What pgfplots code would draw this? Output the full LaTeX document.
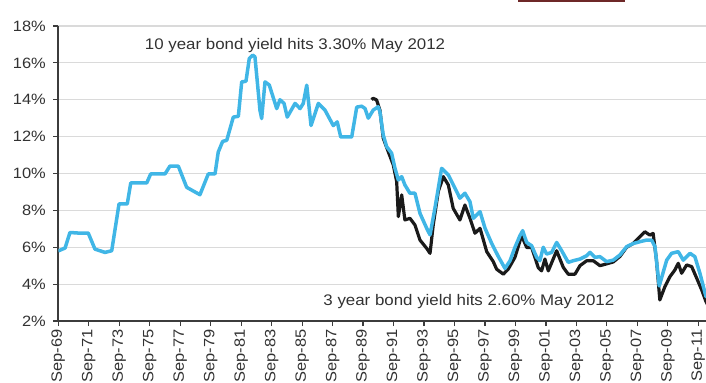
\documentclass[border=0pt]{standalone}
\usepackage{fontspec}
\setmainfont{Liberation Sans}[FakeStretch=1.1]
\usepackage{pgfplots}
\pgfplotsset{compat=1.18}
\definecolor{tenyr}{RGB}{64,182,230}
\definecolor{threeyr}{RGB}{26,26,26}
\definecolor{gridgray}{RGB}{218,218,218}
\definecolor{axisgray}{RGB}{60,60,60}
\definecolor{labgray}{RGB}{50,50,50}
\definecolor{barred}{RGB}{110,40,40}
\begin{document}
\begin{tikzpicture}
\begin{axis}[
  scale only axis, width=647.7bp, height=295bp,
  at={(0,0)}, anchor=south west,
  xmin=1969.555, xmax=2012.06, ymin=2, ymax=18,
  axis lines*=left,
  ytick={2,4,...,18},
  yticklabels={2\%,4\%,6\%,8\%,10\%,12\%,14\%,16\%,18\%},
  ymajorgrids, grid style={draw=gridgray, line width=1.2bp},
  xtick={1969.555,1971.555,1973.555,1975.555,1977.555,1979.555,1981.555,1983.555,1985.555,1987.555,1989.555,1991.555,1993.555,1995.555,1997.555,1999.555,2001.555,2003.555,2005.555,2007.555,2009.555,2011.555},
  xticklabels={Sep-69,Sep-71,Sep-73,Sep-75,Sep-77,Sep-79,Sep-81,Sep-83,Sep-85,Sep-87,Sep-89,Sep-91,Sep-93,Sep-95,Sep-97,Sep-99,Sep-01,Sep-03,Sep-05,Sep-07,Sep-09,Sep-11},
  tick align=outside, major tick length=5bp,
  tick style={line width=1.2bp, draw=axisgray},
  axis line style={line width=1.6bp, draw=axisgray},
  ticklabel style={font=\fontsize{15}{15}\selectfont, text=labgray},
  xticklabel style={rotate=90, anchor=east},
  yticklabel style={xshift=-4bp},
]
\addplot[threeyr, line width=3.2bp, line join=round] coordinates {
(1990.12,14.0) (1990.22,14.08) (1990.44,13.99) (1990.66,13.44) (1990.88,11.91)
(1991.21,11.18) (1991.54,10.46) (1991.76,9.56) (1991.87,7.66) (1992.09,8.84)
(1992.30,7.48) (1992.63,7.57) (1992.96,7.21) (1993.29,6.39) (1993.73,5.94)
(1993.95,5.67) (1994.16,7.21) (1994.49,9.02) (1994.82,9.83) (1995.15,9.38)
(1995.47,8.11) (1995.91,7.48) (1996.24,8.29) (1996.57,7.57) (1996.90,6.76)
(1997.23,7.03) (1997.67,5.76) (1998.10,5.22) (1998.32,4.81) (1998.76,4.54)
(1999.08,4.81) (1999.52,5.45) (1999.96,6.63) (2000.29,5.99) (2000.62,5.99)
(2001.05,4.9) (2001.27,4.72) (2001.49,5.36) (2001.71,4.72) (2002.26,5.81)
(2002.70,4.9) (2003.02,4.54) (2003.46,4.54) (2003.79,5.0) (2004.23,5.27)
(2004.66,5.27) (2005.10,5.0) (2005.54,5.1) (2005.97,5.2) (2006.41,5.5)
(2006.85,6.0) (2007.28,6.2) (2007.72,6.57) (2008.05,6.84) (2008.37,6.66)
(2008.59,6.75) (2008.81,5.3) (2009.03,3.14) (2009.36,3.86) (2009.69,4.4)
(2010.02,4.77) (2010.24,5.13) (2010.46,4.59) (2010.79,5.04) (2011.12,4.95)
(2011.45,4.32) (2011.78,3.68) (2012.06,3.05) (2012.33,2.6)
};
\addplot[tenyr, line width=3.5bp, line join=round] coordinates {
(1969.555,5.8) (1970.00,5.96) (1970.32,6.8) (1970.87,6.77) (1971.52,6.77)
(1971.96,5.9) (1972.62,5.72) (1973.06,5.81) (1973.54,8.35) (1974.08,8.35)
(1974.31,9.49) (1975.36,9.49) (1975.62,9.98) (1976.56,9.98) (1976.88,10.4)
(1977.43,10.4) (1977.98,9.25) (1978.85,8.85) (1979.40,9.98) (1979.84,9.98)
(1980.05,11.16) (1980.34,11.74) (1980.61,11.8) (1981.04,13.06) (1981.37,13.1)
(1981.59,14.97) (1981.87,15.0) (1982.09,16.24) (1982.31,16.42) (1982.46,16.33)
(1982.79,13.43) (1982.90,12.98) (1983.12,14.97) (1983.40,14.8) (1983.89,13.52)
(1984.10,14.0) (1984.37,13.8) (1984.58,13.06) (1985.09,13.8) (1985.42,13.52)
(1985.63,13.8) (1985.86,14.79) (1986.14,12.6) (1986.62,13.8) (1987.06,13.43)
(1987.60,12.6) (1987.86,12.8) (1988.09,11.98) (1988.81,11.98) (1989.14,13.6)
(1989.46,13.65) (1989.68,13.53) (1989.90,13.0) (1990.22,13.44) (1990.55,13.62)
(1990.66,13.35) (1990.88,12.09) (1991.10,11.46) (1991.43,11.1) (1991.65,10.28)
(1991.87,9.65) (1992.09,9.83) (1992.30,9.38) (1992.63,8.93) (1992.96,8.93)
(1993.29,7.84) (1993.73,7.03) (1993.95,6.67) (1994.27,8.11) (1994.71,10.28)
(1995.15,9.92) (1995.59,9.2) (1995.91,8.66) (1996.24,8.93) (1996.57,8.47)
(1996.79,7.57) (1997.23,7.93) (1997.56,7.03) (1998.00,6.2) (1998.43,5.5)
(1998.87,4.85) (1999.20,5.27) (1999.52,5.99) (1999.85,6.63) (2000.03,6.9)
(2000.29,6.26) (2000.62,6.08) (2000.95,5.45) (2001.16,5.27) (2001.38,6.0)
(2001.60,5.63) (2001.93,5.72) (2002.26,6.26) (2002.59,5.81) (2003.02,5.18)
(2003.35,5.27) (2003.79,5.36) (2004.23,5.54) (2004.45,5.72) (2004.77,5.45)
(2005.10,5.49) (2005.54,5.22) (2005.97,5.3) (2006.41,5.58) (2006.85,6.03)
(2007.28,6.2) (2007.72,6.3) (2008.16,6.39) (2008.49,6.39) (2008.71,6.03)
(2008.99,3.9) (2009.48,5.3) (2009.80,5.67) (2010.24,5.76) (2010.57,5.3)
(2011.01,5.67) (2011.33,5.49) (2011.66,4.59) (2012.06,3.32) (2012.33,3.3)
};
\node[anchor=base, font=\fontsize{15.4}{15.4}\selectfont, text=labgray] at (axis cs:1985.09,16.74) {10 year bond yield hits 3.30\% May 2012};
\node[anchor=base, font=\fontsize{15.4}{15.4}\selectfont, text=labgray] at (axis cs:1996.5,2.84) {3 year bond yield hits 2.60\% May 2012};
\end{axis}
\fill[barred] (459.7bp,318.5bp) rectangle (566.7bp,323bp);
\pgfresetboundingbox
\path (-58.3bp,-62bp) rectangle (647.7bp,321bp);
\end{tikzpicture}
\end{document}
